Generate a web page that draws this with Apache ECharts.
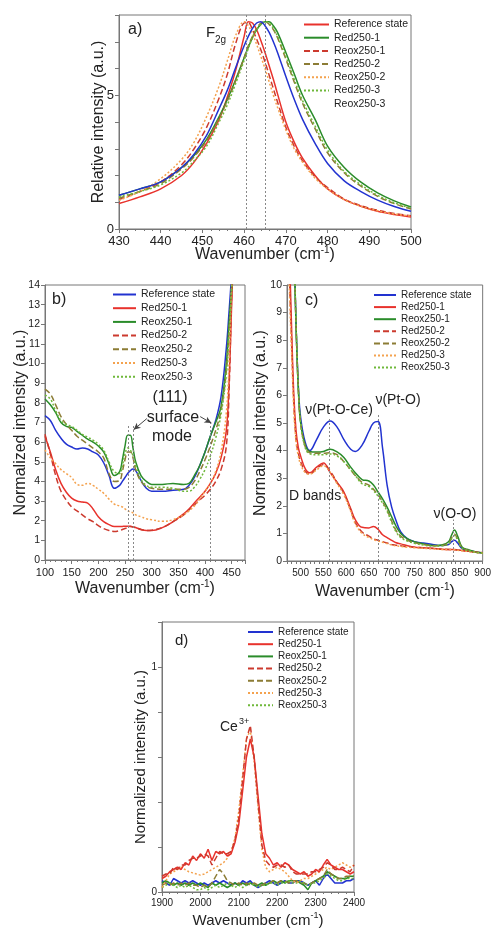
<!DOCTYPE html>
<html><head><meta charset="utf-8">
<script src="https://cdn.jsdelivr.net/npm/echarts@6/dist/echarts.min.js"></script>
<style>html,body{margin:0;padding:0;background:#fff}#c{width:494px;height:932px}</style>
</head><body><div id="c"></div>
<script>
// ---------- Panel a) F2g peak ----------
const aX = [430,435,440,445,448,451,454,456,458,460,461,462,463,464,465,466,467,468,470,472,474,477,480,484,488,492,496,500];
const aRef   = [0.95,1.2,1.5,2.0,2.5,3.2,4.1,4.95,5.95,7.2,7.75,7.7,7.45,7.05,6.6,6.1,5.6,5.05,4.0,3.25,2.65,2.0,1.5,1.1,0.85,0.66,0.54,0.45];
const aRed1  = [1.26,1.5,1.76,2.3,2.75,3.35,4.2,4.85,5.6,6.4,6.8,7.15,7.45,7.65,7.75,7.75,7.6,7.35,6.6,5.8,5.0,4.1,3.1,2.3,1.75,1.35,1.05,0.82];
const aReox1 = [1.1,1.4,1.76,2.4,3.0,3.8,4.9,5.8,6.95,7.7,7.72,7.45,7.1,6.7,6.25,5.75,5.25,4.75,3.8,3.1,2.55,1.95,1.55,1.12,0.87,0.7,0.58,0.5];
const aRed2  = [1.15,1.4,1.7,2.25,2.7,3.3,4.15,4.8,5.55,6.4,6.85,7.2,7.5,7.7,7.75,7.65,7.45,7.15,6.35,5.5,4.7,3.75,2.85,2.1,1.6,1.22,0.95,0.75];
const aReox2 = [1.07,1.4,1.88,2.6,3.25,4.2,5.35,6.3,7.25,7.75,7.6,7.3,6.9,6.45,6.0,5.5,5.0,4.55,3.7,3.0,2.5,1.9,1.5,1.1,0.85,0.68,0.56,0.48];
const aRed3  = [1.2,1.4,1.65,2.1,2.55,3.1,4.0,4.65,5.45,6.3,6.75,7.15,7.45,7.65,7.75,7.7,7.5,7.2,6.45,5.6,4.8,3.85,2.95,2.15,1.65,1.26,0.98,0.78];
const aBlue  = [1.26,1.5,1.76,2.3,2.8,3.5,4.5,5.2,6.05,6.85,7.2,7.5,7.7,7.75,7.6,7.35,7.0,6.6,5.7,4.85,4.1,3.2,2.45,1.8,1.4,1.08,0.84,0.66];
const aLines = [460.5, 465];

// ---------- Panel b) ----------
const bX = [100,110,120,130,140,150,160,170,180,190,200,210,220,230,240,245,250,255,260,265,270,280,290,300,320,340,360,370,380,390,400,410,420,430,440,445,450,455];
const bRef   = [7.35,7.1,6.6,6.2,5.9,5.75,5.65,5.7,5.65,5.5,5.35,4.95,4.3,3.65,3.8,4.0,4.2,4.4,4.55,4.63,4.55,4.05,3.65,3.5,3.5,3.55,3.6,3.8,4.2,4.8,5.5,6.3,7.1,8.3,10.8,12.6,14.6,17];
const bRed1  = [6.3,5.5,4.6,3.9,3.45,3.15,3.0,2.95,2.9,2.6,2.2,1.95,1.8,1.7,1.7,1.71,1.72,1.72,1.72,1.68,1.65,1.55,1.5,1.5,1.65,1.95,2.35,2.6,2.9,3.2,3.5,3.9,4.4,5.2,6.6,9.0,13.0,17];
const bReox1 = [8.2,7.9,7.5,7.0,6.8,6.75,6.55,6.35,6.15,6.0,5.8,5.5,4.9,4.3,4.5,5.1,5.8,6.35,6.35,5.7,5.0,4.3,4.0,3.85,3.85,3.9,3.85,3.9,4.3,4.8,5.5,6.3,7.0,7.8,10.0,12.0,14.0,16.5];
const bRed2  = [6.4,5.4,4.3,3.5,3.05,2.7,2.5,2.3,2.1,1.95,1.75,1.6,1.5,1.45,1.5,1.55,1.6,1.65,1.7,1.68,1.65,1.55,1.5,1.52,1.65,1.95,2.3,2.55,2.8,3.05,3.3,3.6,4.0,4.6,5.8,8.5,13.5,17];
const bReox2 = [8.7,8.45,7.9,7.3,6.9,6.6,6.3,6.1,5.9,5.7,5.5,5.2,4.4,4.0,4.05,4.5,5.1,5.5,5.5,5.2,4.6,4.0,3.75,3.65,3.6,3.6,3.6,3.7,4.0,4.5,5.1,5.8,6.6,7.6,9.6,11.5,13.8,16.5];
const bRed3  = [5.6,5.2,4.9,4.6,4.4,4.2,3.85,3.8,3.9,3.8,3.6,3.4,3.1,2.85,2.75,2.7,2.6,2.5,2.45,2.4,2.3,2.2,2.1,2.05,1.97,2.05,2.3,2.5,2.75,3.1,3.5,3.9,4.5,5.5,7.5,10,14,17];
const bReox3 = [8.4,8.2,7.6,7.1,6.9,6.8,6.6,6.4,6.25,6.1,5.9,5.6,5.0,4.5,4.4,4.8,5.4,5.7,5.6,5.3,4.8,4.1,3.8,3.7,3.7,3.65,3.5,3.5,3.7,4.1,4.6,5.3,6.2,7.4,9.5,11.5,13.8,16.5];
const bLines = [[257, 6.9], [266, 6.9], [410, 7.0]];

// ---------- Panel c) ----------
const cX = [470,475,480,485,490,495,500,510,520,535,550,565,580,595,610,620,635,650,660,670,680,690,700,710,720,735,750,770,790,810,825,832,838,845,855,870,885,900];
const cRef   = [18,16,13.5,11.5,8.5,6.3,5.2,4.3,4.0,4.4,4.85,5.07,4.85,4.4,4.05,3.97,4.2,4.7,5.0,5.05,4.1,2.75,1.95,1.45,1.05,0.8,0.7,0.65,0.6,0.56,0.6,0.7,0.75,0.65,0.45,0.38,0.33,0.29];
const cRed1  = [15,11.5,8.5,6.0,4.7,4.1,3.8,3.35,3.2,3.4,3.55,3.2,2.85,2.5,1.9,1.5,1.22,1.2,1.25,1.15,0.95,0.85,0.75,0.66,0.62,0.55,0.5,0.48,0.46,0.43,0.42,0.42,0.42,0.4,0.38,0.35,0.32,0.3];
const cReox1 = [18,16,13.5,11.5,8.5,6.2,5.0,4.2,3.97,3.95,3.97,4.05,3.95,3.75,3.4,3.2,2.95,2.9,2.75,2.5,2.25,1.95,1.6,1.25,1.0,0.8,0.7,0.62,0.56,0.58,0.7,0.95,1.12,0.9,0.5,0.4,0.33,0.29];
const cRed2  = [14,10.5,8.0,5.7,4.4,3.9,3.6,3.25,3.15,3.35,3.5,3.25,2.85,2.45,1.85,1.4,1.05,0.9,0.8,0.75,0.7,0.65,0.6,0.57,0.55,0.52,0.5,0.47,0.45,0.43,0.42,0.42,0.41,0.4,0.38,0.35,0.32,0.3];
const cReox2 = [18,16,13.5,11.5,8.5,6.2,5.0,4.15,3.92,3.9,3.9,3.92,3.85,3.6,3.3,3.1,2.85,2.75,2.6,2.4,2.15,1.85,1.45,1.1,0.9,0.75,0.66,0.6,0.55,0.56,0.65,0.85,0.97,0.8,0.48,0.38,0.32,0.28];
const cRed3  = [13.5,10,7.6,5.5,4.3,3.8,3.5,3.2,3.15,3.3,3.45,3.2,2.8,2.4,1.8,1.35,1.0,0.85,0.78,0.72,0.68,0.63,0.58,0.55,0.53,0.5,0.48,0.46,0.44,0.42,0.41,0.41,0.41,0.39,0.37,0.34,0.31,0.28];
const cReox3 = [18,16,13.5,11.5,8.5,6.2,5.0,4.1,3.88,3.85,3.85,3.88,3.8,3.6,3.3,3.1,2.8,2.7,2.55,2.35,2.1,1.8,1.4,1.05,0.85,0.72,0.64,0.58,0.54,0.55,0.62,0.8,0.92,0.76,0.46,0.37,0.31,0.28];
const cLines = [[563, 5.15], [670, 5.3], [836, 1.5]];

// ---------- Panel d) ----------
const dX = [1900,1910,1920,1930,1940,1950,1960,1970,1980,1990,2000,2010,2020,2030,2040,2050,2060,2070,2080,2090,2100,2110,2120,2130,2140,2150,2160,2170,2180,2190,2200,2210,2220,2230,2240,2250,2260,2270,2280,2290,2300,2310,2320,2330,2340,2350,2360,2370,2380,2390,2400];
const dRef   = [0.05,0.04,0.03,0.06,0.05,0.04,0.05,0.04,0.05,0.04,0.03,0.04,0.03,0.04,0.05,0.04,0.05,0.04,0.03,0.04,0.03,0.05,0.04,0.05,0.03,0.02,0.03,0.04,0.05,0.04,0.03,0.04,0.05,0.04,0.04,0.05,0.05,0.04,0.03,0.04,0.05,0.03,0.06,0.08,0.06,0.04,0.04,0.04,0.05,0.05,0.06];
const dRed1  = [0.06,0.07,0.09,0.10,0.11,0.10,0.13,0.12,0.16,0.14,0.17,0.15,0.19,0.14,0.18,0.17,0.18,0.16,0.17,0.22,0.30,0.45,0.60,0.68,0.60,0.43,0.26,0.17,0.15,0.12,0.13,0.11,0.13,0.12,0.10,0.09,0.08,0.09,0.07,0.08,0.10,0.09,0.12,0.145,0.12,0.11,0.10,0.10,0.09,0.08,0.09];
const dReox1 = [0.04,0.05,0.04,0.03,0.04,0.03,0.04,0.03,0.04,0.03,0.04,0.03,0.02,0.04,0.03,0.04,0.03,0.02,0.03,0.04,0.03,0.04,0.03,0.04,0.03,0.03,0.04,0.03,0.04,0.05,0.04,0.05,0.04,0.05,0.05,0.05,0.04,0.03,0.01,0.04,0.05,0.06,0.07,0.09,0.08,0.07,0.06,0.06,0.06,0.07,0.07];
const dRed2  = [0.07,0.08,0.08,0.11,0.10,0.12,0.12,0.14,0.15,0.15,0.16,0.17,0.16,0.12,0.15,0.18,0.17,0.17,0.18,0.23,0.33,0.50,0.68,0.74,0.60,0.40,0.21,0.14,0.12,0.11,0.12,0.12,0.11,0.12,0.09,0.08,0.08,0.08,0.08,0.09,0.09,0.10,0.11,0.13,0.12,0.10,0.10,0.11,0.10,0.09,0.12];
const dReox2 = [0.03,0.04,0.03,0.04,0.03,0.04,0.03,0.04,0.03,0.03,0.02,0.03,0.02,0.04,0.07,0.10,0.08,0.05,0.04,0.03,0.04,0.03,0.04,0.03,0.04,0.03,0.03,0.04,0.04,0.05,0.04,0.05,0.05,0.04,0.05,0.05,0.04,0.04,0.03,0.04,0.05,0.06,0.07,0.10,0.08,0.07,0.06,0.06,0.07,0.07,0.07];
const dRed3  = [0.02,0.05,0.08,0.09,0.10,0.11,0.10,0.09,0.085,0.08,0.075,0.08,0.09,0.10,0.11,0.12,0.13,0.15,0.18,0.24,0.36,0.52,0.68,0.72,0.58,0.38,0.19,0.11,0.09,0.10,0.11,0.10,0.09,0.07,0.05,0.04,0.05,0.06,0.06,0.07,0.08,0.09,0.10,0.11,0.10,0.11,0.12,0.13,0.12,0.11,0.12];
const dReox3 = [0.02,0.03,0.04,0.03,0.02,0.03,0.02,0.03,0.02,0.01,0.01,0.02,0.01,0.02,0.03,0.02,0.03,0.04,0.03,0.02,0.03,0.02,0.03,0.04,0.03,0.02,0.03,0.03,0.04,0.04,0.03,0.04,0.04,0.05,0.04,0.04,0.05,0.04,0.03,0.04,0.04,0.05,0.06,0.08,0.07,0.06,0.05,0.05,0.06,0.06,0.06];

const legendNames = ['Reference state','Red250-1','Reox250-1','Red250-2','Reox250-2','Red250-3','Reox250-3'];

// ---------- styles ----------
const FONT = "'Liberation Sans', Arial, Helvetica, sans-serif";
const C = {red:'#e8322c', green:'#2a8c2a', blue:'#2233d0', dred:'#cc3a2e', olive:'#8c7c35', orange:'#f4a24e', lgreen:'#6fb83a'};
const DASH = [6,3], DOT = [2,2];
const zw = k => '\u200b'.repeat(k);

function ser(name, xs, ys, gi, color, type, smooth, extra) {
  return Object.assign({
    type:'line', name, xAxisIndex:gi, yAxisIndex:gi,
    data: xs.map((x,i)=>[x, ys[i]]),
    symbol:'none', showSymbol:false, smooth: smooth, clip:true, silent:true,
    lineStyle:{color, width:1.5, type}, itemStyle:{color}, z:3
  }, extra||{});
}
function refLines(list, ymaxDefault) {
  return list.map(v => {
    const x = Array.isArray(v) ? v[0] : v, y = Array.isArray(v) ? v[1] : ymaxDefault;
    return [{coord:[x,0]},{coord:[x,y]}];
  });
}
const mlBase = {silent:true, symbol:['none','none'], label:{show:false}, animation:false,
  lineStyle:{type:[2,2], color:'#888', width:1}};

const series = [
  // a
  ser('Reference state', aX, aRef, 0, C.red, 'solid', 0.35, {markLine:Object.assign({}, mlBase, {data:refLines(aLines, 8)})}),
  ser('Red250-1', aX, aRed1, 0, C.green, 'solid', 0.35),
  ser('Reox250-1', aX, aReox1, 0, C.dred, DASH, 0.35),
  ser('Red250-2', aX, aRed2, 0, C.olive, DASH, 0.35),
  ser('Reox250-2', aX, aReox2, 0, C.orange, DOT, 0.35),
  ser('Red250-3', aX, aRed3, 0, C.lgreen, DOT, 0.35),
  ser('_blue_a', aX, aBlue, 0, C.blue, 'solid', 0.35),
  {type:'line', name:'Reox250-3', xAxisIndex:0, yAxisIndex:0, data:[], symbol:'none',
   lineStyle:{color:'rgba(0,0,0,0)', width:0, opacity:0}, itemStyle:{color:'rgba(0,0,0,0)', opacity:0}},
  // b
  ser('Reference state'+zw(1), bX, bRef, 1, C.blue, 'solid', 0.4, {markLine:Object.assign({}, mlBase, {data:
    refLines(bLines).concat([
      [{coord:[291,7.2], symbol:'none', lineStyle:{type:'solid', color:'#444', width:1}}, {coord:[266,6.63], symbol:'arrow', symbolSize:[5,7]}],
      [{coord:[391,7.3], symbol:'none', lineStyle:{type:'solid', color:'#444', width:1}}, {coord:[412,6.97], symbol:'arrow', symbolSize:[5,7]}]
    ])})}),
  ser('Red250-1'+zw(1), bX, bRed1, 1, C.red, 'solid', 0.4),
  ser('Reox250-1'+zw(1), bX, bReox1, 1, C.green, 'solid', 0.4),
  ser('Red250-2'+zw(1), bX, bRed2, 1, C.dred, DASH, 0.4),
  ser('Reox250-2'+zw(1), bX, bReox2, 1, C.olive, DASH, 0.4),
  ser('Red250-3'+zw(1), bX, bRed3, 1, C.orange, DOT, 0.4),
  ser('Reox250-3'+zw(1), bX, bReox3, 1, C.lgreen, DOT, 0.4),
  // c
  ser('Reference state'+zw(2), cX, cRef, 2, C.blue, 'solid', 0.4, {markLine:Object.assign({}, mlBase, {data:refLines(cLines)})}),
  ser('Red250-1'+zw(2), cX, cRed1, 2, C.red, 'solid', 0.4),
  ser('Reox250-1'+zw(2), cX, cReox1, 2, C.green, 'solid', 0.4),
  ser('Red250-2'+zw(2), cX, cRed2, 2, C.dred, DASH, 0.4),
  ser('Reox250-2'+zw(2), cX, cReox2, 2, C.olive, DASH, 0.4),
  ser('Red250-3'+zw(2), cX, cRed3, 2, C.orange, DOT, 0.4),
  ser('Reox250-3'+zw(2), cX, cReox3, 2, C.lgreen, DOT, 0.4),
  // d
  ser('Reference state'+zw(3), dX, dRef, 3, C.blue, 'solid', false),
  ser('Reox250-1'+zw(3), dX, dReox1, 3, C.green, 'solid', false),
  ser('Reox250-2'+zw(3), dX, dReox2, 3, C.olive, DASH, false),
  ser('Reox250-3'+zw(3), dX, dReox3, 3, C.lgreen, DOT, false),
  ser('Red250-3'+zw(3), dX, dRed3, 3, C.orange, DOT, false),
  ser('Red250-1'+zw(3), dX, dRed1, 3, C.red, 'solid', false),
  ser('Red250-2'+zw(3), dX, dRed2, 3, C.dred, DASH, false)
];

function leg(left, top, names, fs, gap, iw) {
  return {orient:'vertical', left, top, itemWidth:iw, itemHeight:8, itemGap:gap, padding:0,
    selectedMode:false, textStyle:{fontSize:fs, color:'#222', fontFamily:FONT},
    itemStyle:{opacity:0, borderWidth:0},
    data:names, formatter:n => n.replace(/\u200b/g,'')};
}

const axisCol = '#777';
const nameStyle = (fs) => ({fontSize:fs, fontFamily:FONT, color:'#222', lineHeight:20,
  rich:{sup:{fontSize:Math.round(fs*0.62), lineHeight:10, verticalAlign:'top', fontFamily:FONT, color:'#222'}}});
function xAx(gi, min, max, interval, fs, opts) {
  return Object.assign({gridIndex:gi, type:'value', min, max, interval,
    axisLine:{show:true, onZero:false, lineStyle:{color:axisCol}},
    axisTick:{show:true, length:4, lineStyle:{color:axisCol}},
    minorTick:{show:true, splitNumber:5, length:2, lineStyle:{color:axisCol}},
    splitLine:{show:false}, minorSplitLine:{show:false},
    axisLabel:{fontSize:fs, color:'#222', fontFamily:FONT, margin:6, showMaxLabel:true, formatter:v => String(v)},
    name:'Wavenumber (cm{sup|-1})', nameLocation:'middle', nameGap:16, nameMoveOverlap:false,
    nameTextStyle:nameStyle(15)}, opts||{});
}
function yAx(gi, min, max, interval, fs, name, gap, opts) {
  return Object.assign({gridIndex:gi, type:'value', min, max, interval,
    axisLine:{show:true, onZero:false, lineStyle:{color:axisCol}},
    axisTick:{show:true, length:4, lineStyle:{color:axisCol}},
    splitLine:{show:false},
    axisLabel:{fontSize:fs, color:'#222', fontFamily:FONT, margin:5},
    name, nameLocation:'middle', nameGap:gap, nameMoveOverlap:false,
    nameTextStyle:{fontSize:15, fontFamily:FONT, color:'#222'}}, opts||{});
}

function txt(x, y, text, size, align) {
  return {type:'text', x, y, silent:true, z:100,
    style:{text, fill:'#222', font: size+'px '+FONT, align:align||'left', textAlign:align||'left',
      verticalAlign:'middle', textVerticalAlign:'middle'}};
}

const option = {
  animation:false,
  backgroundColor:'#fff',
  grid:[
    {left:119, top:15, width:292, height:214, show:true, borderColor:axisCol, borderWidth:1},
    {left:45, top:285, width:200, height:275, show:true, borderColor:axisCol, borderWidth:1},
    {left:287, top:285, width:198, height:276, show:true, borderColor:axisCol, borderWidth:1},
    {left:162, top:622, width:192, height:275, show:true, borderColor:axisCol, borderWidth:1}
  ],
  xAxis:[
    xAx(0, 430, 500, 10, 13, {nameGap:16, nameTextStyle:nameStyle(16)}),
    xAx(1, 100, 475, 50, 11, {axisLabel:{fontSize:11, color:'#222', fontFamily:FONT, margin:7, showMaxLabel:false, formatter:v => String(v)}, nameGap:19, nameTextStyle:nameStyle(16)}),
    xAx(2, 470, 900, 10, 10, {minorTick:{show:false}, axisTick:{length:3, lineStyle:{color:axisCol}},
      axisLabel:{fontSize:10, color:'#222', fontFamily:FONT, margin:7, formatter:v => (v % 50 === 0 ? String(v) : '')},
      nameGap:21, nameTextStyle:nameStyle(16)}),
    xAx(3, 1900, 2400, 100, 10, {nameGap:19, nameTextStyle:nameStyle(15)})
  ],
  yAxis:[
    yAx(0, 0, 8, 1, 13, 'Relative intensity (a.u.)', 12, {axisLabel:{fontSize:13, color:'#222', fontFamily:FONT, margin:5,
      formatter:v => (v === 0 || v === 5) ? String(v) : ''}, nameTextStyle:{fontSize:16, fontFamily:FONT, color:'#222'}}),
    yAx(1, 0, 14, 1, 10.5, 'Normalized intensity (a.u.)', 16, {nameTextStyle:{fontSize:16, fontFamily:FONT, color:'#222'}}),
    yAx(2, 0, 10, 1, 10.5, 'Normalized intensity (a.u.)', 18, {nameTextStyle:{fontSize:16, fontFamily:FONT, color:'#222'}}),
    yAx(3, 0, 1.2, 0.2, 10, 'Normalized intensity (a.u.)', 14, {axisLabel:{fontSize:10, color:'#222', fontFamily:FONT, margin:5,
      formatter:v => (Math.abs(v) < 1e-9 || Math.abs(v-1) < 1e-9) ? String(Math.round(v)) : ''}})
  ],
  legend:[
    leg(303, 19, legendNames, 10.5, 2.2, 25),
    leg(112, 289, legendNames.map(n=>n+zw(1)), 10.5, 2.7, 23),
    leg(373, 290, legendNames.map(n=>n+zw(2)), 10, 2.1, 22),
    leg(247, 627, legendNames.map(n=>n+zw(3)), 10, 2.2, 25)
  ],
  series,
  graphic:[
    txt(128, 30, 'a)', 16),
    txt(206, 33, 'F', 15),
    txt(215, 40, '2g', 10),
    txt(52, 300, 'b)', 16),
    txt(170, 398, '(111)', 16, 'center'),
    txt(173, 418, 'surface', 16, 'center'),
    txt(172, 437, 'mode', 16, 'center'),
    txt(305, 301, 'c)', 16),
    txt(339, 410, '\u03bd(Pt-O-Ce)', 14, 'center'),
    txt(398, 400, '\u03bd(Pt-O)', 14, 'center'),
    txt(289, 496, 'D bands', 14),
    txt(455, 514, '\u03bd(O-O)', 14, 'center'),
    txt(175, 641, 'd)', 15),
    txt(220, 727, 'Ce', 14),
    txt(239, 722, '3+', 9)
  ]
};

const chart = echarts.init(document.getElementById('c'), null, {renderer:'canvas'});
chart.setOption(option);
</script>
</body></html>
